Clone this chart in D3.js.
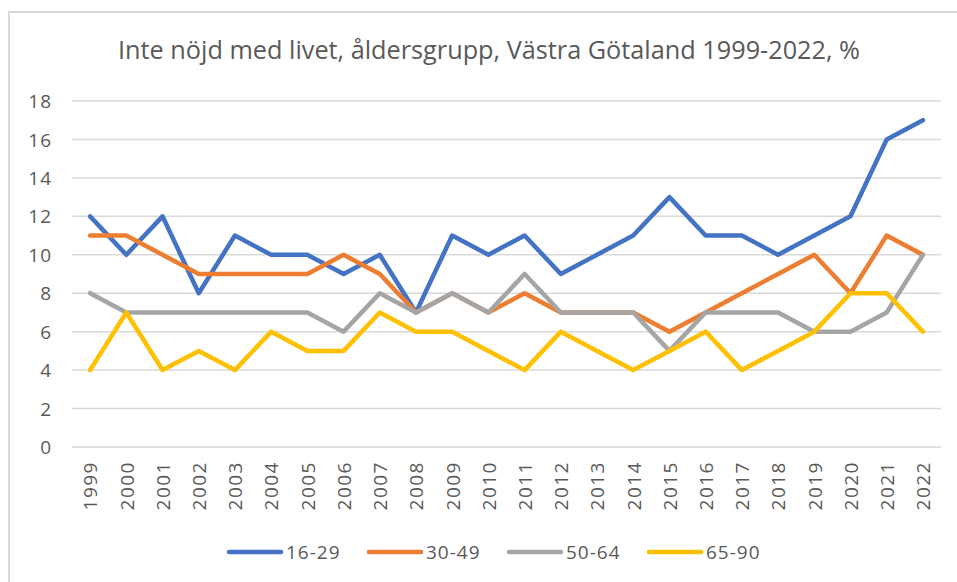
<!DOCTYPE html>
<html>
<head>
<meta charset="utf-8">
<script src="https://cdn.jsdelivr.net/npm/d3@7"></script>
<style>
  body { margin: 0; background: #fff; }
  svg text { font-family: "Open Sans", sans-serif; fill: #595959; }
</style>
</head>
<body>
<svg width="957" height="582"></svg>
<script>
var years = ["1999","2000","2001","2002","2003","2004","2005","2006","2007","2008","2009","2010",
             "2011","2012","2013","2014","2015","2016","2017","2018","2019","2020","2021","2022"];
var age16_29 = [12,10,12,8,11,10,10,9,10,7,11,10,11,9,10,11,13,11,11,10,11,12,16,17];
var age30_49 = [11,11,10,9,9,9,9,10,9,7,8,7,8,7,7,7,6,7,8,9,10,8,11,10];
var age50_64 = [8,7,7,7,7,7,7,6,8,7,8,7,9,7,7,7,5,7,7,7,6,6,7,10];
var age65_90 = [4,7,4,5,4,6,5,5,7,6,6,5,4,6,5,4,5,6,4,5,6,8,8,6];
var seriesNames = ["16-29", "30-49", "50-64", "65-90"];
var yTicks = [0, 2, 4, 6, 8, 10, 12, 14, 16, 18];
var title = "Inte nöjd med livet, åldersgrupp, Västra Götaland 1999-2022, %";

var series = [age16_29, age30_49, age50_64, age65_90];
var color = d3.scaleOrdinal(seriesNames, ["#4472C4", "#ED7D31", "#A5A5A5", "#FFC000"]);

var svg = d3.select("svg");

// chart frame (only top and left edge show in the picture)
svg.append("rect")
    .attr("x", 9).attr("y", 12)
    .attr("width", 1000).attr("height", 1000)
    .attr("fill", "none")
    .attr("stroke", "#d9d9d9")
    .attr("stroke-width", 2);

svg.append("text")
    .attr("x", 489).attr("y", 59)
    .attr("text-anchor", "middle")
    .attr("textLength", 742)
    .attr("lengthAdjust", "spacingAndGlyphs")
    .style("font-size", "26px")
    .text(title);

var x = d3.scalePoint().domain(years).range([72, 941]).padding(0.5);
var y = d3.scaleLinear().domain([0, 18]).range([447, 101]);

// gridlines
svg.append("g").selectAll("line")
    .data(yTicks)
    .enter().append("line")
    .attr("x1", 72).attr("x2", 941)
    .attr("y1", function (d) { return y(d); })
    .attr("y2", function (d) { return y(d); })
    .attr("stroke", "#d9d9d9")
    .attr("stroke-width", 1.5);

// y axis labels
var yAxis = svg.append("g")
    .attr("transform", "translate(52,0)")
    .call(d3.axisLeft(y).tickValues(yTicks).tickSize(0).tickPadding(0));
yAxis.select(".domain").remove();
yAxis.selectAll("text")
    .attr("fill", "#595959")
    .style("font-size", "19px")
    .style("letter-spacing", "1px")
    .attr("dy", "0.35em");

// x axis labels, rotated
var xAxis = svg.append("g")
    .attr("transform", "translate(0,461)")
    .call(d3.axisBottom(x).tickSize(0).tickPadding(0));
xAxis.select(".domain").remove();
xAxis.selectAll("text")
    .attr("fill", "#595959")
    .style("font-size", "19px")
    .style("letter-spacing", "1.5px")
    .attr("text-anchor", "end")
    .attr("transform", "rotate(-90)")
    .attr("x", 0).attr("y", 0)
    .attr("dy", "0.36em");

var line = d3.line()
    .x(function (d, i) { return x(years[i]); })
    .y(function (d) { return y(d); });

svg.append("g").selectAll("path")
    .data(series)
    .enter().append("path")
    .attr("d", line)
    .attr("fill", "none")
    .attr("stroke", function (d, i) { return color(seriesNames[i]); })
    .attr("stroke-width", 4.5)
    .attr("stroke-linejoin", "round")
    .attr("stroke-linecap", "round");

// legend
var legend = svg.append("g").selectAll("g")
    .data(seriesNames)
    .enter().append("g")
    .attr("transform", function (d, i) { return "translate(" + (227 + i * 140) + ",552)"; });

legend.append("line")
    .attr("x1", 2).attr("x2", 54)
    .attr("stroke", function (d) { return color(d); })
    .attr("stroke-width", 4.5)
    .attr("stroke-linecap", "round");

legend.append("text")
    .attr("x", 59)
    .attr("dy", "0.35em")
    .style("font-size", "19px")
    .style("letter-spacing", "1px")
    .text(function (d) { return d; });
</script>
</body>
</html>
